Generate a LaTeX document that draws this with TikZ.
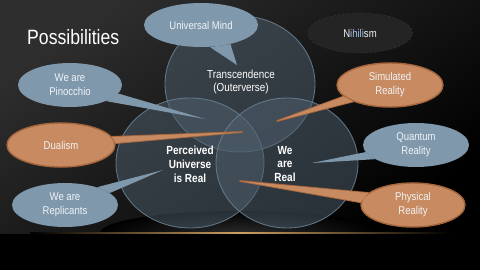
\documentclass[tikz,border=0pt]{standalone}
\usepackage{fontspec}
\setmainfont[FakeStretch=0.85]{Liberation Sans}
\usetikzlibrary{shapes.geometric}
\definecolor{bluec}{RGB}{127,152,172}
\definecolor{orc}{RGB}{200,138,96}
\definecolor{orb}{RGB}{165,102,62}
\definecolor{circf}{RGB}{80,96,110}
\definecolor{circb}{RGB}{105,130,148}
\definecolor{gold}{RGB}{205,160,95}
\definecolor{bgtop}{RGB}{46,46,46}
\definecolor{glowc}{RGB}{42,42,42}
\definecolor{nihf}{RGB}{36,36,36}
\definecolor{nihb}{RGB}{64,64,64}
\definecolor{txt}{RGB}{240,243,246}
\definecolor{nihl}{RGB}{160,195,230}
\pgfdeclarelayer{bgl}\pgfdeclarelayer{tails}\pgfdeclarelayer{front}
\pgfsetlayers{bgl,tails,main,front}
\begin{document}
\begin{tikzpicture}[x=0.02cm,y=-0.02cm,
 callout/.style={ellipse, inner sep=0pt, minimum width=2.1cm, minimum height=0.88cm, align=center, text=txt, font=\fontsize{6.4}{7.9}\selectfont},
 bluecall/.style={callout, fill=bluec},
 orcall/.style={callout, fill=orc, draw=orb, line width=0.8pt},
 bluetail/.style={fill=bluec},
 ortail/.style={fill=orc, draw=orb, line width=1pt, line join=round},
 orfill/.style={fill=orc},
 venn/.style={fill=circf, fill opacity=0.5, draw=circb, draw opacity=0.85, line width=0.5pt},
 vlabel/.style={align=center, text=white, font=\bfseries\fontsize{6.7}{7.9}\selectfont},
]
\useasboundingbox (0,0) rectangle (480,270);
\begin{pgfonlayer}{bgl}
\fill[black] (0,0) rectangle (480,270);
\shade[top color=bgtop, bottom color=black, shading angle=35] (0,0) rectangle (480,233);
\begin{scope}
\clip (0,0) rectangle (480,233);
\shade[inner color=glowc, outer color=black] (240,233) ellipse (140 and 22);
\end{scope}
\shade[left color=black, right color=black, middle color=gold] (30,232.4) rectangle (450,233.6);
\path[venn] (240,84) ellipse (75 and 68);
\path[venn] (190,163) ellipse (74 and 65);
\path[venn] (287,163) ellipse (71 and 65);
\end{pgfonlayer}

\node[text=white, font=\fontsize{11.8}{14}\selectfont, anchor=base west] (title) at (21,45) {Possibilities};

\node[vlabel, font=\fontsize{6.6}{7.9}\selectfont] (trans) at (241,82) {Transcendence\\(Outerverse)};
\node[vlabel] (perc) at (190,164) {Perceived\\Universe\\is Real};
\node[vlabel] (real) at (285,164) {We\\are\\Real};

\node[bluecall, minimum width=2.28cm] (um) at (201,25) {Universal Mind};
\node[callout, fill=nihf, draw=nihb, dotted, line width=0.4pt, minimum width=2.1cm, minimum height=0.8cm] (nih) at (360,33) {N\textcolor{nihl}{ihili}sm};
\node[bluecall, minimum width=2.08cm] (pin) at (70,85) {We are\\Pinocchio};
\node[orcall, minimum width=2.12cm] (sim) at (390,85) {Simulated\\Reality};
\node[orcall, minimum width=2.16cm] (dual) at (61,145) {Dualism};
\node[bluecall, minimum width=2.12cm] (rep) at (65,205) {We are\\Replicants};
\node[bluecall, minimum width=2.12cm] (qr) at (416,145) {Quantum\\Reality};
\node[orcall, minimum width=2.08cm] (pr) at (413,205) {Physical\\Reality};

\coordinate (umTip) at (237,65);
\coordinate (pinTip) at (205,119);
\coordinate (simTip) at (277,121);
\coordinate (dualTip) at (242,132);
\coordinate (repTip) at (163,170);
\coordinate (qrTip) at (312,163);
\coordinate (prTip) at (240,181);

\begin{pgfonlayer}{tails}
\fill[bluetail] (um.-68) -- (umTip) -- (um.-33) -- cycle;
\fill[bluetail] (pin.-10) -- (pinTip) -- (pin.-24) -- cycle;
\fill[bluetail] (rep.29) -- (repTip) -- (rep.15) -- cycle;
\fill[bluetail] (qr.188) -- (qrTip) -- (qr.199) -- cycle;
\filldraw[ortail] (sim.194) -- (simTip) -- (sim.204) -- cycle;
\filldraw[ortail] (dual.9) -- (dualTip) -- (dual.2) -- cycle;
\filldraw[ortail] (pr.165) -- (prTip) -- (pr.177) -- cycle;
\end{pgfonlayer}
\begin{pgfonlayer}{front}
\fill[orfill] (sim.194) -- (simTip) -- (sim.204) -- cycle;
\fill[orfill] (dual.9) -- (dualTip) -- (dual.2) -- cycle;
\fill[orfill] (pr.165) -- (prTip) -- (pr.177) -- cycle;
\end{pgfonlayer}
\end{tikzpicture}
\end{document}
